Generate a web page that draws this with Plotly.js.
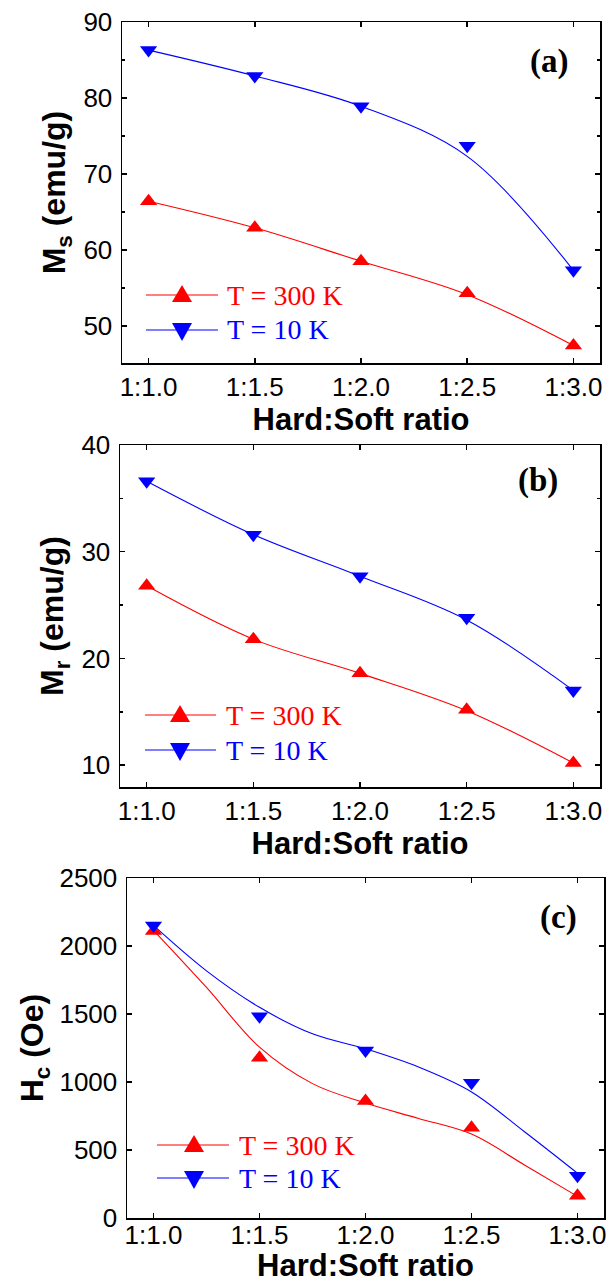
<!DOCTYPE html>
<html><head><meta charset="utf-8">
<script src="https://cdn.plot.ly/plotly-3.0.1.min.js"></script>
<style>html,body{margin:0;padding:0;background:#fff}</style>
</head><body><div id="chart" style="width:614px;height:1283px"></div>
<script>
// ---- data ----
const ratioValues = [1.0, 1.5, 2.0, 2.5, 3.0];
const ratioLabels = ['1:1.0', '1:1.5', '1:2.0', '1:2.5', '1:3.0'];
const seriesNames = ['T = 300 K', 'T = 10 K'];
const seriesColors = ['#ff0000', '#0000ff'];

// (a) saturation magnetisation Ms (emu/g)
const ms300 = [66.4, 62.9, 58.5, 54.3, 47.4];
const ms10 = [86.3, 82.9, 78.9, 73.7, 57.3];
const ms300Curve = [66.4, 62.9, 58.5, 54.1, 47.4];
const ms10Curve = [86.3, 82.9, 78.9, 72.3, 57.3];

// (b) remanent magnetisation Mr (emu/g)
const mr300 = [26.8, 21.8, 18.6, 15.2, 10.2];
const mr10 = [36.6, 31.6, 27.7, 23.8, 17.0];
const mr300Curve = [26.8, 21.8, 18.6, 15.1, 10.2];
const mr10Curve = [36.6, 31.6, 27.7, 23.6, 17.0];

// (c) coercivity Hc (Oe)
const hc300 = [2110, 1178, 861, 663, 163];
const hc10 = [2151, 1483, 1232, 995, 310];
const curveXc = [1.0, 1.25, 1.5, 1.75, 2.0, 2.25, 2.5, 2.75, 3.0];
const hc300Curve = [2115, 1695, 1256, 988, 845, 732, 617, 390, 159];
const hc10Curve = [2151, 1817, 1549, 1354, 1244, 1110, 927, 634, 329];

// ---- layout helpers ----
const W = 614, H = 1283;
const px = v => v / W;
const py = v => 1 - v / H;
const SANS = 'Liberation Sans, Arial, sans-serif';
const SERIF = 'Liberation Serif, Times New Roman, serif';

function markerTrace(x, y, xa, ya, i) {
  return {x, y, xaxis: xa, yaxis: ya, mode: 'markers', showlegend: false, hoverinfo: 'skip',
    marker: {symbol: i === 0 ? 'triangle-up' : 'triangle-down', size: 15, color: seriesColors[i], line: {width: 0}}};
}
function curveTrace(x, y, xa, ya, i) {
  return {x, y, xaxis: xa, yaxis: ya, mode: 'lines', showlegend: false, hoverinfo: 'skip',
    line: {shape: 'spline', smoothing: 1, width: 1.1, color: seriesColors[i]}};
}

const traces = [
  curveTrace(ratioValues, ms300Curve, 'x', 'y', 0),
  curveTrace(ratioValues, ms10Curve, 'x', 'y', 1),
  markerTrace(ratioValues, ms300, 'x', 'y', 0),
  markerTrace(ratioValues, ms10, 'x', 'y', 1),
  curveTrace(ratioValues, mr300Curve, 'x2', 'y2', 0),
  curveTrace(ratioValues, mr10Curve, 'x2', 'y2', 1),
  markerTrace(ratioValues, mr300, 'x2', 'y2', 0),
  markerTrace(ratioValues, mr10, 'x2', 'y2', 1),
  curveTrace(curveXc, hc300Curve, 'x3', 'y3', 0),
  curveTrace(curveXc, hc10Curve, 'x3', 'y3', 1),
  markerTrace(ratioValues, hc300, 'x3', 'y3', 0),
  markerTrace(ratioValues, hc10, 'x3', 'y3', 1)
];

function xAxis(left, right, anchor, labelStandoff, titleStandoff) {
  return {
    domain: [px(left), px(right)], anchor, range: [0.875, 3.125],
    tickmode: 'array', tickvals: ratioValues, ticktext: ratioLabels,
    ticks: 'inside', ticklen: 5, tickwidth: 1.5, tickcolor: '#000',
    showline: true, linewidth: 1.5, linecolor: '#000', mirror: 'ticks',
    showgrid: false, zeroline: false, ticklabelstandoff: labelStandoff,
    tickfont: {family: SANS, size: 26, color: '#000'},
    title: {text: 'Hard:Soft ratio', standoff: titleStandoff, font: {family: SANS, size: 31, weight: 700, color: '#000'}}
  };
}
function yAxis(top, bottom, anchor, range, dtick, minorDtick, titleText, standoff) {
  const ax = {
    domain: [py(bottom), py(top)], anchor, range, dtick,
    ticks: 'inside', ticklen: 5, tickwidth: 1.5, tickcolor: '#000',
    showline: true, linewidth: 1.5, linecolor: '#000', mirror: 'ticks',
    showgrid: false, zeroline: false, ticklabelstandoff: 3,
    tickfont: {family: SANS, size: 26, color: '#000'},
    title: {text: titleText, standoff, font: {family: SANS, size: 32, weight: 700, color: '#000'}}
  };
  if (minorDtick) ax.minor = {dtick: minorDtick, ticks: 'inside', ticklen: 3, tickwidth: 1.5, tickcolor: '#000', showgrid: false};
  return ax;
}

// ---- legends (one per panel) ----
const legendSpecs = [
  {lineX: [146, 218], markX: 182, textX: 225, rows: [295, 330]},
  {lineX: [145, 216], markX: 180, textX: 224, rows: [715, 750]},
  {lineX: [157, 229], markX: 194, textX: 237, rows: [1145, 1178]}
];
const shapes = [], annotations = [];
legendSpecs.forEach(spec => {
  spec.rows.forEach((ry, i) => {
    shapes.push({type: 'line', xref: 'paper', yref: 'paper', x0: px(spec.lineX[0]), x1: px(spec.lineX[1]),
      y0: py(ry), y1: py(ry), line: {color: seriesColors[i], width: 1.1}});
    shapes.push({type: 'path', xref: 'paper', yref: 'paper', xsizemode: 'pixel', ysizemode: 'pixel',
      xanchor: px(spec.markX), yanchor: py(ry),
      path: i === 0 ? 'M-10,-7L10,-7L0,10Z' : 'M-10,7L10,7L0,-11Z',
      fillcolor: seriesColors[i], line: {width: 0}});
    annotations.push({xref: 'paper', yref: 'paper', x: px(spec.textX), y: py(ry), xanchor: 'left', yanchor: 'middle',
      showarrow: false, text: seriesNames[i], font: {family: SERIF, size: 28, color: seriesColors[i]}});
  });
});
const panelLabels = [['(a)', 549, 62], ['(b)', 538, 480], ['(c)', 558, 917]];
panelLabels.forEach(([t, x, y]) => annotations.push({xref: 'paper', yref: 'paper', x: px(x), y: py(y),
  xanchor: 'center', yanchor: 'middle', showarrow: false, text: t,
  font: {family: SERIF, size: 33, weight: 700, color: '#000'}}));

const layout = {
  width: W, height: H, margin: {l: 0, r: 0, t: 0, b: 0},
  paper_bgcolor: '#fff', plot_bgcolor: '#fff', showlegend: false,
  xaxis: xAxis(122, 600, 'y', 0, 2),
  yaxis: yAxis(22, 363, 'x', [45.1, 90], 10, 5, 'M<sub>s</sub> (emu/g)', 8),
  xaxis2: xAxis(120, 600, 'y2', 0, 2),
  yaxis2: yAxis(445, 787, 'x2', [7.95, 40], 10, 5, 'M<sub>r</sub> (emu/g)', 8),
  xaxis3: xAxis(127, 604, 'y3', -7, 2),
  yaxis3: yAxis(878, 1218, 'x3', [0, 2500], 500, null, 'H<sub>c</sub> (Oe)', 6),
  shapes, annotations
};

Plotly.newPlot('chart', traces, layout, {staticPlot: true, displayModeBar: false});
</script></body></html>
